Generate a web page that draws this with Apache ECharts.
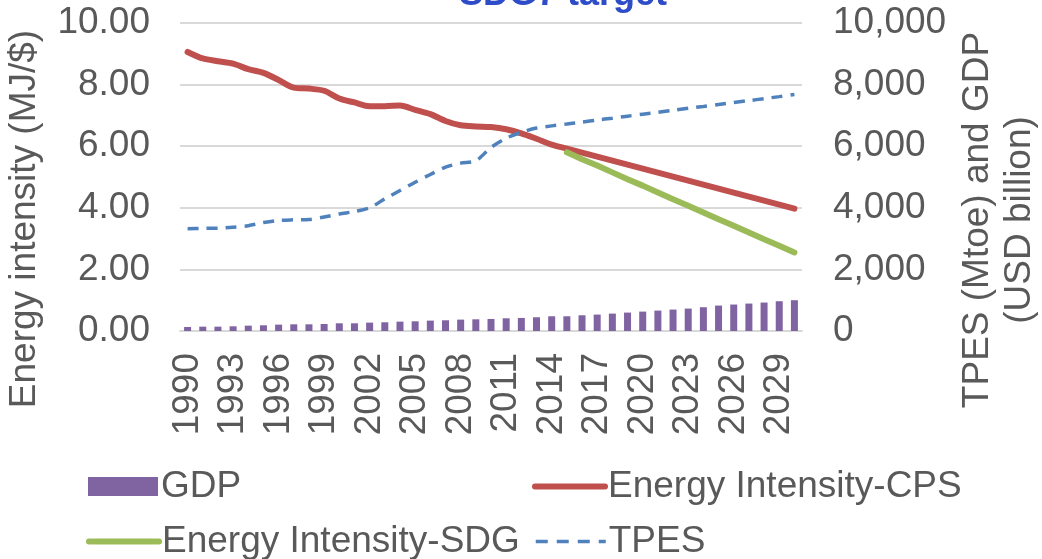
<!DOCTYPE html>
<html>
<head>
<meta charset="utf-8">
<script src="https://cdn.jsdelivr.net/npm/echarts@6/dist/echarts.min.js"></script>
<style>
  html, body { margin: 0; padding: 0; background: #fff; }
  #chart { width: 1042px; height: 559px; }
</style>
</head>
<body>
<div id="chart"></div>
<script>
// categories
var years = ['1990','1991','1992','1993','1994','1995','1996','1997','1998','1999',
             '2000','2001','2002','2003','2004','2005','2006','2007','2008','2009',
             '2010','2011','2012','2013','2014','2015','2016','2017','2018','2019',
             '2020','2021','2022','2023','2024','2025','2026','2027','2028','2029','2030'];

// GDP (USD billion), right axis
var gdp = [130,141,141,152,174,185,207,217,217,228,
           250,250,272,283,304,315,337,348,370,380,
           391,413,424,446,478,478,511,533,565,598,
           630,663,696,728,772,826,859,891,924,967,1000];

// energy intensity current policy (MJ/$), left axis
var eiCPS = [9.06,8.85,8.76,8.68,8.50,8.38,8.15,7.90,7.87,7.80,
             7.55,7.42,7.30,7.30,7.32,7.18,7.04,6.82,6.68,6.64,
             6.62,6.55,6.42,6.24,6.05,5.92,5.79,5.66,5.53,5.40,
             5.27,5.14,5.01,4.88,4.75,4.62,4.49,4.36,4.23,4.10,3.97];

// energy intensity SDG path, starts 2015
var eiSDG = [null,null,null,null,null,null,null,null,null,null,
             null,null,null,null,null,null,null,null,null,null,
             null,null,null,null,null,5.80,5.58,5.37,5.15,4.93,
             4.72,4.50,4.28,4.07,3.85,3.63,3.42,3.20,2.98,2.77,2.55];

// TPES (Mtoe), right axis
var tpes = [3320,3330,3340,3370,3420,3520,3590,3610,3620,3700,
            3800,3880,4000,4290,4560,4830,5080,5320,5450,5530,
            5960,6260,6450,6590,6660,6720,6785,6850,6910,6975,
            7040,7100,7165,7230,7290,7355,7420,7480,7545,7610,7680];

var txt = '#595959';
var fam = '"Liberation Sans", Arial, sans-serif';
var fs = 37;

function legendAt(name, left, top, lineW, dash) {
    var l = {
        data: [lineW ? name : { name: name, icon: 'rect' }],
        left: left,
        top: top,
        itemWidth: 70,
        itemHeight: 19,
        itemGap: 0,
        textStyle: { color: txt, fontSize: fs, fontFamily: fam, padding: [0,0,0,-2] }
    };
    if (lineW) {
        l.itemStyle = { opacity: 0 };
        l.lineStyle = { width: lineW, type: dash || 'solid' };
    }
    return l;
}

var option = {
    animation: false,
    textStyle: { fontFamily: fam },
    title: {
        text: 'SDG7 target',
        left: 558,
        textAlign: 'center',
        top: -28,
        textStyle: { color: '#2E4CC8', fontSize: 36, fontWeight: 'bold', fontFamily: fam }
    },
    grid: { left: 180, right: 240, top: 23, bottom: 228, outerBoundsMode: 'none' },
    legend: [
        legendAt('GDP', 83, 463),
        legendAt('Energy Intensity-CPS', 527, 463, 6),
        legendAt('Energy Intensity-SDG', 81, 518, 6),
        legendAt('TPES', 529, 518, 3.5, [12, 9])
    ],
    xAxis: {
        type: 'category',
        data: years,
        axisLine: { lineStyle: { color: '#D9D9D9', width: 2 } },
        axisTick: { show: false },
        axisLabel: {
            interval: 2,
            rotate: 90,
            margin: 22,
            color: txt,
            fontSize: fs,
            fontFamily: fam
        }
    },
    yAxis: [{
        type: 'value',
        min: 0,
        max: 10,
        interval: 2,
        name: 'Energy intensity (MJ/$)',
        nameLocation: 'middle',
        nameRotate: 90,
        nameGap: 137,
        nameTextStyle: { color: txt, fontSize: fs, fontFamily: fam, padding: [0, 84, 0, 0] },
        axisLine: { show: false },
        axisTick: { show: false },
        splitLine: { lineStyle: { color: '#D9D9D9', width: 2 } },
        axisLabel: {
            margin: 30,
            color: txt,
            fontSize: fs,
            fontFamily: fam,
            formatter: function (v) { return v.toFixed(2); }
        }
    }, {
        type: 'value',
        min: 0,
        max: 10000,
        interval: 2000,
        position: 'right',
        name: 'TPES (Mtoe) and GDP\n(USD billion)',
        nameLocation: 'middle',
        nameRotate: 90,
        nameGap: 153,
        nameTextStyle: { color: txt, fontSize: fs, fontFamily: fam, lineHeight: 42, padding: [0, 86, 0, 0] },
        axisLine: { show: false },
        axisTick: { show: false },
        splitLine: { show: false },
        axisLabel: {
            margin: 31,
            color: txt,
            fontSize: fs,
            fontFamily: fam,
            formatter: function (v) { return v.toLocaleString('en-US'); }
        }
    }],
    series: [{
        name: 'GDP',
        type: 'bar',
        yAxisIndex: 1,
        data: gdp,
        barWidth: 7,
        itemStyle: { color: '#8064A2' }
    }, {
        name: 'Energy Intensity-CPS',
        type: 'line',
        yAxisIndex: 0,
        data: eiCPS,
        smooth: 0.3,
        symbol: 'none',
        itemStyle: { color: '#C0504D' },
        lineStyle: { color: '#C0504D', width: 6, cap: 'round' }
    }, {
        name: 'Energy Intensity-SDG',
        type: 'line',
        yAxisIndex: 0,
        data: eiSDG,
        symbol: 'none',
        itemStyle: { color: '#9BBB59' },
        lineStyle: { color: '#9BBB59', width: 6, cap: 'round' }
    }, {
        name: 'TPES',
        type: 'line',
        yAxisIndex: 1,
        data: tpes,
        smooth: 0.3,
        symbol: 'none',
        itemStyle: { color: '#4F81BD' },
        lineStyle: { color: '#4F81BD', width: 3.5, type: [11, 8] }
    }]
};

var chart = echarts.init(document.getElementById('chart'));
chart.setOption(option);
</script>
</body>
</html>
